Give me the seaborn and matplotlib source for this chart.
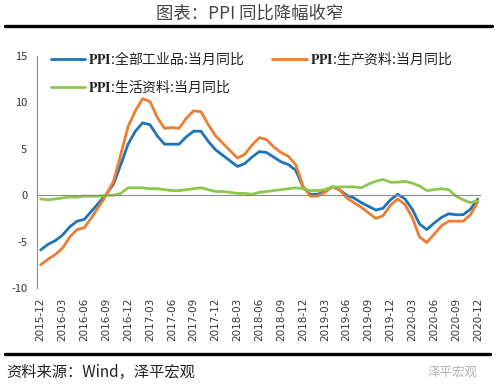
import numpy as np
import pandas as pd
import matplotlib
matplotlib.use("Agg")
import matplotlib.pyplot as plt
import seaborn as sns

sns.set_style("white")
plt.rcParams['font.family'] = ['Noto Sans CJK SC', 'DejaVu Sans']
plt.rcParams['mathtext.fontset'] = 'stix'
plt.rcParams['axes.unicode_minus'] = False

# monthly, 2015-12 .. 2020-12
months = pd.period_range("2015-12", "2020-12", freq="M").strftime("%Y-%m").tolist()

ppi_all = [-5.9,
           -5.3, -4.9, -4.3, -3.4, -2.8, -2.6, -1.7, -0.8, 0.1, 1.2, 3.3, 5.5,
           6.9, 7.8, 7.6, 6.4, 5.5, 5.5, 5.5, 6.3, 6.9, 6.9, 5.8, 4.9,
           4.3, 3.7, 3.1, 3.4, 4.1, 4.7, 4.6, 4.1, 3.6, 3.3, 2.7, 0.9,
           0.1, 0.1, 0.4, 0.9, 0.6, 0.0, -0.3, -0.8, -1.2, -1.6, -1.4, -0.5,
           0.1, -0.4, -1.5, -3.1, -3.7, -3.0, -2.4, -2.0, -2.1, -2.1, -1.5, -0.4]

ppi_producer = [-7.5,
                -6.9, -6.4, -5.7, -4.5, -3.7, -3.5, -2.4, -1.2, 0.0, 1.5, 4.4, 7.4,
                9.1, 10.4, 10.1, 8.4, 7.2, 7.3, 7.2, 8.3, 9.1, 9.0, 7.6, 6.4,
                5.6, 4.8, 4.0, 4.4, 5.4, 6.2, 6.0, 5.2, 4.6, 4.2, 3.3, 1.0,
                -0.1, -0.1, 0.3, 0.9, 0.6, -0.3, -0.8, -1.3, -1.9, -2.5, -2.2, -1.1,
                -0.4, -1.0, -2.4, -4.5, -5.1, -4.2, -3.3, -2.8, -2.8, -2.8, -2.1, -0.7]

ppi_consumer = [-0.4,
                -0.5, -0.4, -0.3, -0.2, -0.2, -0.1, -0.1, -0.1, 0.0, 0.0, 0.2, 0.8,
                0.8, 0.8, 0.7, 0.7, 0.6, 0.5, 0.5, 0.6, 0.7, 0.8, 0.6, 0.4,
                0.4, 0.3, 0.2, 0.2, 0.1, 0.3, 0.4, 0.5, 0.6, 0.7, 0.8, 0.7,
                0.5, 0.5, 0.6, 0.9, 0.9, 0.9, 0.9, 0.8, 1.2, 1.5, 1.7, 1.4,
                1.4, 1.5, 1.3, 1.0, 0.5, 0.6, 0.7, 0.6, -0.1, -0.5, -0.8, -0.6]

series_names = [r"$\mathbf{PPI}$:全部工业品:当月同比",
                r"$\mathbf{PPI}$:生产资料:当月同比",
                r"$\mathbf{PPI}$:生活资料:当月同比"]
colors = ["#1f73b8", "#ed7d31", "#8cc84b"]

idx = np.arange(len(months))
df = pd.DataFrame({"idx": np.tile(idx, 3),
                   "value": ppi_all + ppi_producer + ppi_consumer,
                   "series": np.repeat(series_names, len(months))})

fig = plt.figure(figsize=(5, 3.89), dpi=100)
ax = fig.add_axes([0.074, 0.2596, 0.886, 0.5964])

sns.lineplot(data=df, x="idx", y="value", hue="series", palette=colors,
             linewidth=2, ax=ax, legend=True)
for ln in ax.lines:
    ln.set_solid_joinstyle("round")
    ln.set_solid_capstyle("round")

ax.set_xlim(-0.4, 60.3)
ax.set_ylim(-10, 15)
ax.set_yticks([-10, -5, 0, 5, 10, 15])
ax.set_xlabel("")
ax.set_ylabel("")

for s in ["top", "right"]:
    ax.spines[s].set_visible(False)
ax.spines["left"].set_color("#8c8c8c")
ax.spines["bottom"].set_color("#8c8c8c")
ax.spines["bottom"].set_position(("data", 0))
ax.tick_params(axis="y", direction="out", length=4, color="#8c8c8c",
               labelsize=8, labelcolor="#333333", pad=3)
ax.set_xticks(np.arange(0, 61, 3) - 0.5)
ax.tick_params(axis="x", direction="out", length=3, color="#8c8c8c",
               labelbottom=False)

sec = ax.secondary_xaxis("bottom")
sec.set_xticks(np.arange(0, 61, 3))
sec.set_xticklabels(months[::3], rotation=90, fontsize=7.5, color="#333333",
                    family="DejaVu Sans")
sec.tick_params(length=0, pad=7)
sec.spines["bottom"].set_visible(False)

handles, labels = ax.get_legend_handles_labels()
ax.legend_.remove()
order = [0, 2, 1]
fig.legend([handles[i] for i in order], [labels[i] for i in order],
           ncol=2, frameon=False, fontsize=10, loc="upper left",
           bbox_to_anchor=(0.09, 0.887), handlelength=2.5, handletextpad=0.2,
           columnspacing=2.0, labelspacing=0.7, borderaxespad=0,
           labelcolor="#222222")

# header / footer
fig.text(0.5, 0.965, "图表：PPI 同比降幅收窄", ha="center", va="center",
         fontsize=12.5, color="#444444")
fig.add_artist(plt.Line2D([0.01, 0.984], [0.932, 0.932], color="black",
                          linewidth=2.4, transform=fig.transFigure))
fig.add_artist(plt.Line2D([0.01, 0.98], [0.09, 0.09], color="black",
                          linewidth=2.4, transform=fig.transFigure))
fig.text(0.012, 0.043, "资料来源：Wind，泽平宏观", ha="left", va="center",
         fontsize=11, style="italic", color="#222222")
fig.text(0.955, 0.043, "泽平宏观", ha="right", va="center",
         fontsize=9, color="#b0b0b0")

fig.savefig("out.png", dpi=100)
